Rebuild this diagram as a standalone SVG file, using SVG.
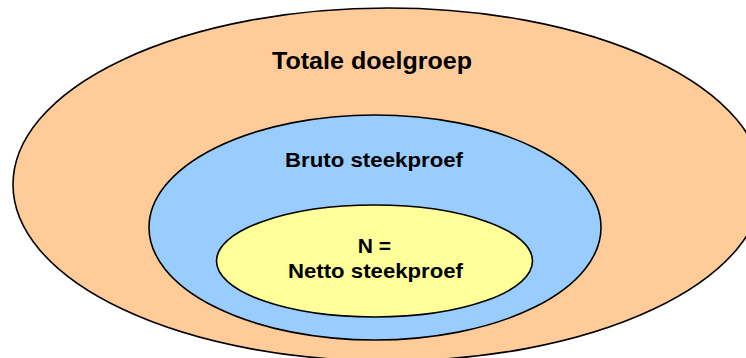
<svg xmlns="http://www.w3.org/2000/svg" width="746" height="358" viewBox="0 0 746 358">
  <style>
    .set { stroke: #000; stroke-width: 1.6; }
    .lbl { font-family: "Liberation Sans", Arial, sans-serif; font-weight: bold; fill: #000; text-anchor: middle; }
  </style>
  <rect width="746" height="358" fill="#fff"/>
  <g id="totale-doelgroep">
    <ellipse class="set" cx="388" cy="184.5" rx="375" ry="176.5" fill="#FFCC99"/>
    <text class="lbl" x="372" y="69" font-size="24" textLength="200" lengthAdjust="spacingAndGlyphs">Totale doelgroep</text>
  </g>
  <g id="bruto-steekproef">
    <ellipse class="set" cx="375" cy="227.5" rx="226" ry="112.5" fill="#99CCFF"/>
    <text class="lbl" x="374" y="167.3" font-size="21" textLength="178" lengthAdjust="spacingAndGlyphs">Bruto steekproef</text>
  </g>
  <g id="netto-steekproef">
    <ellipse class="set" cx="374.5" cy="261" rx="158" ry="56" fill="#FFFF99"/>
    <text class="lbl" x="374.5" y="253" font-size="21">N =</text>
    <text class="lbl" x="375.5" y="278.3" font-size="21" textLength="175" lengthAdjust="spacingAndGlyphs">Netto steekproef</text>
  </g>
  <g id="connectors"/>
</svg>
